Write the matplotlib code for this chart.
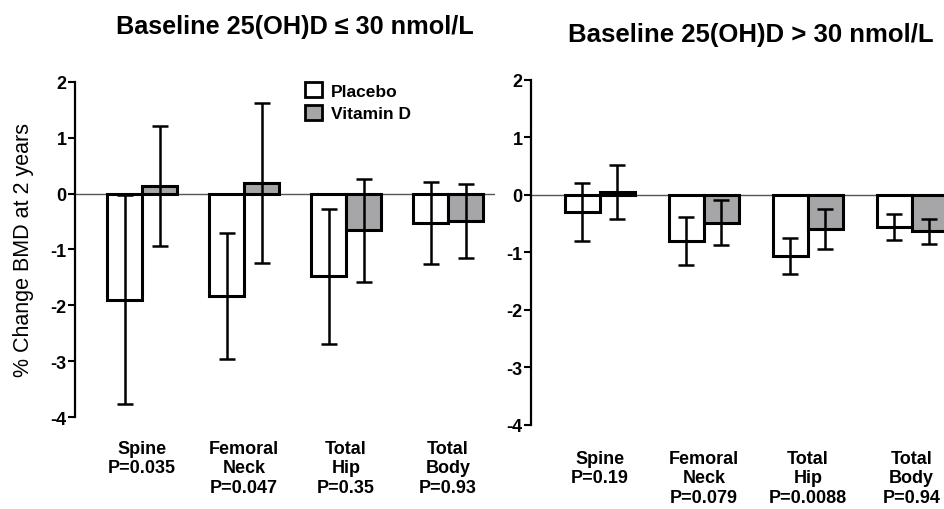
import matplotlib
matplotlib.use("Agg")
import matplotlib.pyplot as plt
from matplotlib.patches import Patch
import numpy as np

plt.rcParams['font.family'] = ['Liberation Sans', 'DejaVu Sans']
plt.rcParams['axes.unicode_minus'] = False

sites_low = ["Spine\nP=0.035", "Femoral\nNeck\nP=0.047", "Total\nHip\nP=0.35", "Total\nBody\nP=0.93"]
sites_high = ["Spine\nP=0.19", "Femoral\nNeck\nP=0.079", "Total\nHip\nP=0.0088", "Total\nBody\nP=0.94"]

# baseline <= 30 nmol/L
placebo_low = [-1.90, -1.83, -1.48, -0.53]
placebo_low_err = [1.87, 1.12, 1.21, 0.73]
vitd_low = [0.13, 0.18, -0.66, -0.49]
vitd_low_err = [1.07, 1.43, 0.92, 0.66]

# baseline > 30 nmol/L
placebo_high = [-0.30, -0.81, -1.06, -0.56]
placebo_high_err = [0.50, 0.42, 0.31, 0.22]
vitd_high = [0.04, -0.49, -0.60, -0.64]
vitd_high_err = [0.47, 0.39, 0.35, 0.22]

fig = plt.figure(figsize=(9.45, 5.1), dpi=100)
ax1 = fig.add_axes([75/945, 0.1798, 420/945, 0.838 - 0.1798])
ax2 = fig.add_axes([531/945, 0.165, 414/945, 0.842 - 0.165])

def draw(ax, labels, pl, ple, vd, vde, w, xlim, pad):
    x = np.arange(len(labels))
    ax.axhline(0, color='#555555', lw=1.0, zorder=0)
    ek = dict(capsize=5.5, elinewidth=1.8, capthick=1.8, ecolor='black')
    ax.bar(x - w/2, pl, w, yerr=ple, color='white', edgecolor='black', linewidth=2.2, error_kw=ek)
    ax.bar(x + w/2, vd, w, yerr=vde, color='#a6a6a8', edgecolor='black', linewidth=2.2, error_kw=ek)
    ax.set_xlim(*xlim)
    ax.set_ylim(-4, 2)
    ax.set_yticks([-4, -3, -2, -1, 0, 1, 2])
    ax.set_xticks(x)
    ax.set_xticklabels(labels, fontsize=13, fontweight='bold', linespacing=1.2)
    ax.tick_params(axis='x', length=0, pad=pad)
    ax.tick_params(axis='y', length=5, width=1.5, labelsize=13, pad=1)
    for t in ax.get_yticklabels():
        t.set_fontweight('bold')
    for s in ['top', 'right', 'bottom']:
        ax.spines[s].set_visible(False)
    ax.spines['left'].set_linewidth(1.6)

draw(ax1, sites_low, placebo_low, placebo_low_err, vitd_low, vitd_low_err, 0.343, (-0.657, 3.46), 16)
draw(ax2, sites_high, placebo_high, placebo_high_err, vitd_high, vitd_high_err, 0.337, (-0.663, 3.32), 18)

ax1.set_ylabel("% Change BMD at 2 years", fontsize=15.5, labelpad=12)

handles = [Patch(facecolor='white', edgecolor='black', linewidth=2),
           Patch(facecolor='#a6a6a8', edgecolor='black', linewidth=2)]
ax1.legend(handles, ["Placebo", "Vitamin D"], loc='upper left', bbox_to_anchor=(0.53, 1.02),
           frameon=False, prop=dict(weight='bold', size=12.5), handlelength=1.0, handleheight=1.0,
           handletextpad=0.5, labelspacing=0.35, borderaxespad=0)

fig.text(295/945, 1 - 27/510, "Baseline 25(OH)D \u2264 30 nmol/L", ha='center', va='center',
         fontsize=18.2, fontweight='bold')
fig.text(751/945, 1 - 35/510, "Baseline 25(OH)D > 30 nmol/L", ha='center', va='center',
         fontsize=18.5, fontweight='bold')

fig.savefig("out.png", dpi=100)
